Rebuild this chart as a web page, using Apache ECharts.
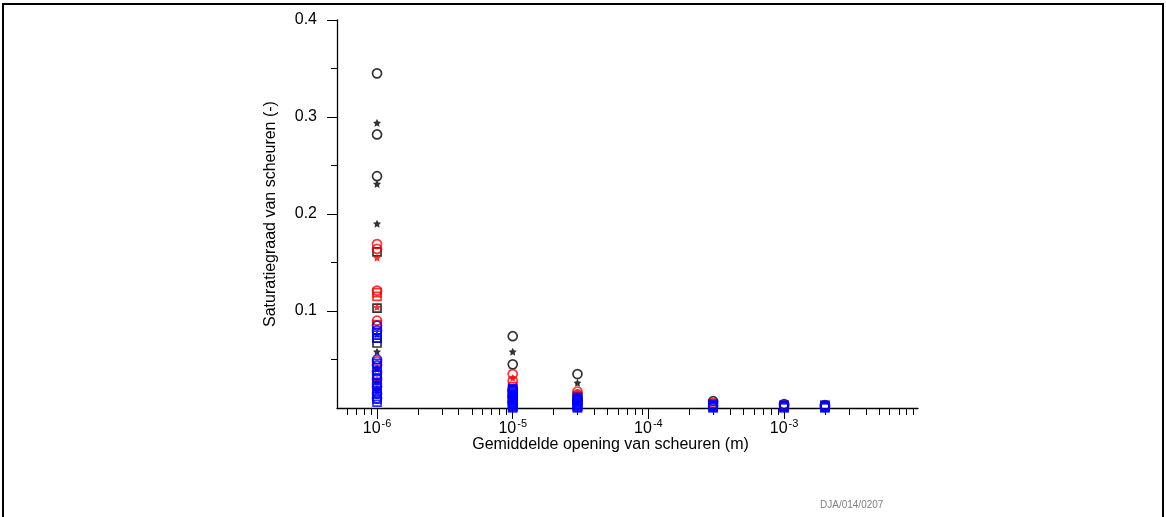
<!DOCTYPE html>
<html>
<head>
<meta charset="utf-8">
<script src="https://cdn.jsdelivr.net/npm/echarts@6/dist/echarts.min.js"></script>
<style>
  html, body { margin: 0; padding: 0; background: #fff; }
  #chart { width: 1166px; height: 517px; }
</style>
</head>
<body>
<div id="chart"></div>
<script>
var myChart = echarts.init(document.getElementById('chart'));

// gemiddelde opening (m), one column of points per value
var openings = [1e-6, 1e-5, 3e-5, 3e-4, 1e-3, 2e-3];

// saturatiegraad per opening, one array per marker type
var blackCircle = [[0.345, 0.282, 0.239], [0.074, 0.045], [0.035], [0.007], [0.004], [0.003]];
var blackStar   = [[0.294, 0.231, 0.190, 0.058], [0.058], [0.026], [], [], []];
var blackSquare = [[0.161, 0.103, 0.072, 0.067], [], [], [], [], []];
var redCircle   = [[0.169, 0.164, 0.121, 0.090, 0.048, 0.035, 0.025], [0.035, 0.028, 0.019], [0.017, 0.014], [0.005], [0.003], [0.002]];
var redStar     = [[0.155, 0.104, 0.041, 0.029, 0.018], [0.031], [0.016], [], [], []];
var redSquare   = [[0.119, 0.115, 0.086], [0.022], [0.012], [], [], []];
var blueCircle  = [[0.085, 0.080, 0.050, 0.044, 0.038, 0.030, 0.022, 0.015, 0.010], [0.018, 0.012, 0.006], [0.008], [0.002], [0.002], [0.001]];
var blueStar    = [[0.076, 0.040, 0.027, 0.020], [0.010], [0.005], [], [], []];
var blueSquare  = [[0.078, 0.075, 0.072, 0.046, 0.042, 0.034, 0.031, 0.026, 0.020, 0.016, 0.012, 0.009, 0.006],
                   [0.020, 0.019, 0.018, 0.017, 0.016, 0.015, 0.014, 0.013, 0.012, 0.011, 0.010,
                    0.009, 0.008, 0.007, 0.006, 0.005, 0.004, 0.003, 0.002, 0.001, 0.000],
                   [0.011, 0.010, 0.009, 0.008, 0.007, 0.006, 0.005, 0.004, 0.003, 0.002, 0.001, 0.000],
                   [0.004, 0.003, 0.002, 0.001, 0.000],
                   [0.003, 0.002, 0.001, 0.000],
                   [0.003, 0.002, 0.001, 0.000]];

var xMajorTicks = [1e-6, 1e-5, 1e-4, 1e-3];
var xMinorTicks = [];
for (var d = -7; d <= -3; d++) {
    for (var k = 2; k <= 9; k++) {
        xMinorTicks.push(k * Math.pow(10, d));
    }
}
var yMajorTicks = [0.1, 0.2, 0.3, 0.4];
var yMinorTicks = [0.05, 0.15, 0.25, 0.35];

var starPath = 'path://M0,-10 L2.94,-4.05 9.51,-3.09 4.76,1.55 5.88,8.09 0,5 -5.88,8.09 -4.76,1.55 -9.51,-3.09 -2.94,-4.05 Z';
var font = 'Liberation Sans, Arial, sans-serif';

function pts(cols) {
    var res = [];
    for (var i = 0; i < cols.length; i++) {
        for (var j = 0; j < cols[i].length; j++) {
            res.push([openings[i], cols[i][j]]);
        }
    }
    return res;
}

// open markers: transparent fill so overlapping outlines add up
function mk(name, data, color, kind) {
    var s = {
        name: name,
        type: 'scatter',
        data: pts(data),
        animation: false,
        emphasis: { disabled: true }
    };
    if (kind === 'circle') {
        s.symbol = 'circle';
        s.symbolSize = 9;
        s.itemStyle = { color: 'rgba(0,0,0,0)', borderColor: color, borderWidth: 1.7 };
    } else if (kind === 'rect') {
        s.symbol = 'rect';
        s.symbolSize = 8;
        s.itemStyle = { color: 'rgba(0,0,0,0)', borderColor: color, borderWidth: 1.7 };
    } else {
        s.symbol = starPath;
        s.symbolSize = 8;
        s.itemStyle = { color: color };
    }
    return s;
}

option = {
    backgroundColor: '#fff',
    grid: { left: 337, top: 20, right: 248, bottom: 109 },
    xAxis: [
        {
            type: 'log',
            min: 5.07e-7,
            max: 9.7e-3,
            name: 'Gemiddelde opening van scheuren (m)',
            nameLocation: 'middle',
            nameGap: 29,
            nameMoveOverlap: false,
            nameTextStyle: { fontFamily: font, fontSize: 16, color: '#000', padding: [0, 34, 0, 0] },
            axisLine: { show: true, onZero: false, lineStyle: { color: '#000', width: 1.3 } },
            axisTick: { show: true, inside: false, length: 11, customValues: xMajorTicks, lineStyle: { color: '#000' } },
            axisLabel: {
                show: true,
                margin: 10,
                customValues: xMajorTicks,
                formatter: function (v) {
                    return '{b|10}{s|' + Math.round(Math.log10(v)) + '}';
                },
                rich: {
                    b: { fontFamily: font, fontSize: 16, color: '#000' },
                    s: { fontFamily: font, fontSize: 11, color: '#000', padding: [0, 0, 11, 1] }
                }
            },
            splitLine: { show: false }
        },
        {
            type: 'log',
            min: 5.07e-7,
            max: 9.7e-3,
            position: 'bottom',
            axisLine: { show: false },
            axisTick: { show: true, inside: false, length: 7, customValues: xMinorTicks, lineStyle: { color: '#000' } },
            axisLabel: { show: false },
            splitLine: { show: false }
        }
    ],
    yAxis: [
        {
            type: 'value',
            min: 0,
            max: 0.4,
            interval: 0.1,
            position: 'left',
            name: 'Saturatiegraad van scheuren (-)',
            nameLocation: 'middle',
            nameGap: 58,
            nameMoveOverlap: false,
            nameTextStyle: { fontFamily: font, fontSize: 16, color: '#000' },
            axisLine: { show: true, onZero: false, lineStyle: { color: '#000', width: 1.3 } },
            axisTick: { show: true, inside: false, length: 10, customValues: yMajorTicks, lineStyle: { color: '#000' } },
            axisLabel: {
                margin: 20,
                customValues: yMajorTicks,
                fontFamily: font,
                fontSize: 16,
                color: '#000',
                formatter: function (v) { return v.toFixed(1); }
            },
            splitLine: { show: false }
        },
        {
            type: 'value',
            min: 0,
            max: 0.4,
            position: 'left',
            axisLine: { show: false },
            axisTick: { show: true, inside: false, length: 6, customValues: yMinorTicks, lineStyle: { color: '#000' } },
            axisLabel: { show: false },
            splitLine: { show: false }
        }
    ],
    graphic: [
        {
            type: 'rect',
            shape: { x: 3, y: 4, width: 1160, height: 600 },
            style: { fill: 'none', stroke: '#000', lineWidth: 2 },
            silent: true
        },
        {
            type: 'text',
            left: 820,
            top: 500,
            style: { text: 'DJA/014/0207', fontFamily: font, fontSize: 10, fill: '#808080' },
            silent: true
        }
    ],
    series: [
        mk('zwart cirkel', blackCircle, '#000000', 'circle'),
        mk('zwart ster', blackStar, '#000000', 'star'),
        mk('zwart vierkant', blackSquare, '#000000', 'rect'),
        mk('rood cirkel', redCircle, '#ff0000', 'circle'),
        mk('rood ster', redStar, '#ff0000', 'star'),
        mk('rood vierkant', redSquare, '#ff0000', 'rect'),
        mk('blauw cirkel', blueCircle, '#0000ff', 'circle'),
        mk('blauw ster', blueStar, '#0000ff', 'star'),
        mk('blauw vierkant', blueSquare, '#0000ff', 'rect')
    ]
};

myChart.setOption(option);
</script>
</body>
</html>
